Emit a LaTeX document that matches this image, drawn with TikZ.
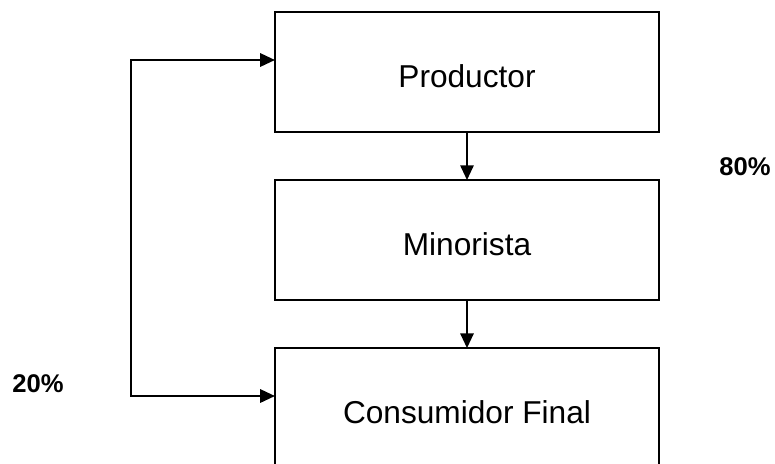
\documentclass[tikz,border=0pt]{standalone}
\usepackage{fontspec}
\setmainfont{Liberation Sans}
\usetikzlibrary{positioning,arrows.meta}
\tikzset{>={Triangle[length=10.5pt,width=9.5pt]}}
\tikzset{caja/.style={draw,line width=1.4pt,outer sep=0pt,minimum width=9.6cm,minimum height=3cm,
  text height=22pt,text depth=0pt,font=\fontsize{22.5}{27}\selectfont}}
\tikzset{pct/.style={anchor=base,font=\fontsize{18.2}{22}\selectfont\bfseries}}
\begin{document}
\begin{tikzpicture}[x=0.025cm,y=-0.025cm]
\useasboundingbox (0,0) rectangle (775,463);
\clip (0,0) rectangle (775,463);
\node[caja] (prod) at (467,72) {Productor};
\node[caja,below=1.2cm of prod] (mino) {Minorista};
\node[caja,below=1.2cm of mino] (cons) {Consumidor Final};
\draw[->,line width=1.4pt] (prod) -- (mino);
\draw[->,line width=1.4pt] (mino) -- (cons);
\coordinate (lt) at (131,60);
\coordinate (lb) at (131,396);
\draw[<->,line width=1.4pt] (prod.west |- lt) -- (lt) -- (lb) -- (cons.west |- lb);
\node[pct] (p80) at (745,175) {80\%};
\node[pct] (p20) at (38,392) {20\%};
\end{tikzpicture}
\end{document}
